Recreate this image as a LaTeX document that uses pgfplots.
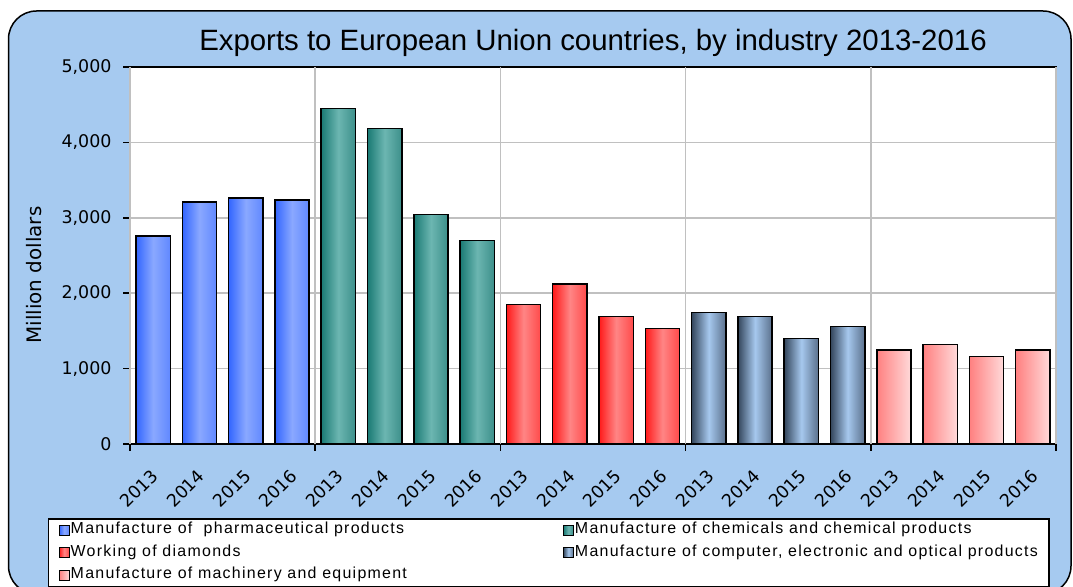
\documentclass[border=0pt]{standalone}
\usepackage{fontspec}
\setmainfont{Liberation Sans}
\newfontfamily\tickfont{DejaVu Sans}
\newfontfamily\legfont[LetterSpace=8]{Liberation Sans}
\usepackage{pgfplots}
\pgfplotsset{compat=1.18}

\definecolor{bgblue}{HTML}{A6CAF0}
\definecolor{gridgray}{HTML}{C0C0C0}
\definecolor{blueL}{HTML}{3366FF}
\definecolor{blueM}{HTML}{8AA8FF}
\definecolor{blueR}{HTML}{6088FF}
\definecolor{tealL}{HTML}{1A7A74}
\definecolor{tealM}{HTML}{6CB6B1}
\definecolor{tealR}{HTML}{3C8F8A}
\definecolor{redL}{HTML}{FF1A1A}
\definecolor{redM}{HTML}{FF8585}
\definecolor{redR}{HTML}{FF4A4A}
\definecolor{steelL}{HTML}{34465C}
\definecolor{steelM}{HTML}{A6C8EE}
\definecolor{steelR}{HTML}{5A708C}
\definecolor{pinkL}{HTML}{FF8080}
\definecolor{pinkR}{HTML}{FFDADA}

% one \addplot per bar so that every bar gets its own gradient
\pgfplotsset{
  bars/.style={ybar, bar width=0.74, bar shift=0pt, draw=black, line width=1.5bp,
    legend image code/.code={\draw[##1,line width=1bp] (0bp,-5bp) rectangle (10bp,5bp);}},
  pharma/.style={bars, left color=blueL, right color=blueR, middle color=blueM},
  chem/.style={bars, left color=tealL, right color=tealR, middle color=tealM},
  diam/.style={bars, left color=redL, right color=redR, middle color=redM},
  comp/.style={bars, left color=steelL, right color=steelR, middle color=steelM},
  mach/.style={bars, left color=pinkL, right color=pinkR},
}

\begin{document}
\begin{tikzpicture}[x=1bp,y=1bp]
\useasboundingbox (0,0) rectangle (1073,587);
\clip (0,0) rectangle (1073,587);
\draw[line width=1.5bp, fill=bgblue, rounded corners=28bp] (8.5,-7) rectangle (1071,576);
\begin{axis}[
  at={(130bp,143bp)}, anchor=south west,
  scale only axis, width=926bp, height=377bp,
  axis background/.style={fill=white},
  axis line style={line width=1.5bp},
  xmin=-0.5, xmax=19.5, ymin=0, ymax=5000,
  ytick={0,1000,...,5000},
  scaled y ticks=false,
  xtick pos=bottom, ytick pos=left,
  tick align=outside, major tick length=7bp,
  tick style={black, line width=1.5bp},
  ymajorgrids, grid style={color=gridgray, line width=1.5bp},
  xtick={0,...,19},
  xticklabels={2013,2014,2015,2016,2013,2014,2015,2016,2013,2014,2015,2016,2013,2014,2015,2016,2013,2014,2015,2016},
  xtick style={draw=none},
  extra x ticks={-0.5,3.5,7.5,11.5,15.5,19.5},
  extra x tick labels={},
  extra x tick style={grid=major, xtick style={draw=black}},
  xticklabel style={xshift=-3bp, yshift=-17bp, rotate=45, anchor=north east, inner sep=0pt,
    font=\tickfont\fontsize{17.5}{17.5}\selectfont},
  yticklabel style={xshift=-8bp, font=\tickfont\fontsize{17.5}{17.5}\selectfont},
  title={Exports to European Union countries, by industry 2013-2016},
  title style={at={(0.5,1.029)}, anchor=base, inner sep=0pt, font=\fontsize{29.5}{29.5}\selectfont},
  ylabel={Million dollars},
  ylabel style={at={(-0.1037,0.448)}, anchor=center, inner sep=0pt, font=\tickfont\fontsize{20}{20}\selectfont},
  legend columns=2,
  legend cell align=left,
  legend style={at={(-0.0886,-0.1963)}, anchor=north west, draw=black, line width=1.5bp,
    fill=white, inner xsep=10bp, inner ysep=3bp, row sep=6bp,
    font=\legfont\fontsize{16}{16}\selectfont,
    nodes={inner sep=1bp, text height=11bp, text depth=3.5bp},
    /tikz/every even column/.append style={column sep=155bp}},
  /pgf/number format/1000 sep={,},
  /pgf/number format/assume math mode=true,
]
\addplot[pharma] coordinates {(0,2757)};
\addlegendentry{Manufacture of\ \ pharmaceutical products}
\addplot[pharma, forget plot] coordinates {(1,3210)};
\addplot[pharma, forget plot] coordinates {(2,3263)};
\addplot[pharma, forget plot] coordinates {(3,3236)};

\addplot[chem] coordinates {(4,4452)};
\addlegendentry{Manufacture of chemicals and chemical products}
\addplot[chem, forget plot] coordinates {(5,4186)};
\addplot[chem, forget plot] coordinates {(6,3046)};
\addplot[chem, forget plot] coordinates {(7,2700)};

\addplot[diam] coordinates {(8,1853)};
\addlegendentry{Working of diamonds}
\addplot[diam, forget plot] coordinates {(9,2119)};
\addplot[diam, forget plot] coordinates {(10,1693)};
\addplot[diam, forget plot] coordinates {(11,1534)};

\addplot[comp] coordinates {(12,1747)};
\addlegendentry{Manufacture of computer, electronic and optical products}
\addplot[comp, forget plot] coordinates {(13,1693)};
\addplot[comp, forget plot] coordinates {(14,1401)};
\addplot[comp, forget plot] coordinates {(15,1560)};

\addplot[mach] coordinates {(16,1246)};
\addlegendentry{Manufacture of machinery and equipment}
\addplot[mach, forget plot] coordinates {(17,1321)};
\addplot[mach, forget plot] coordinates {(18,1161)};
\addplot[mach, forget plot] coordinates {(19,1246)};
\end{axis}
\end{tikzpicture}
\end{document}
